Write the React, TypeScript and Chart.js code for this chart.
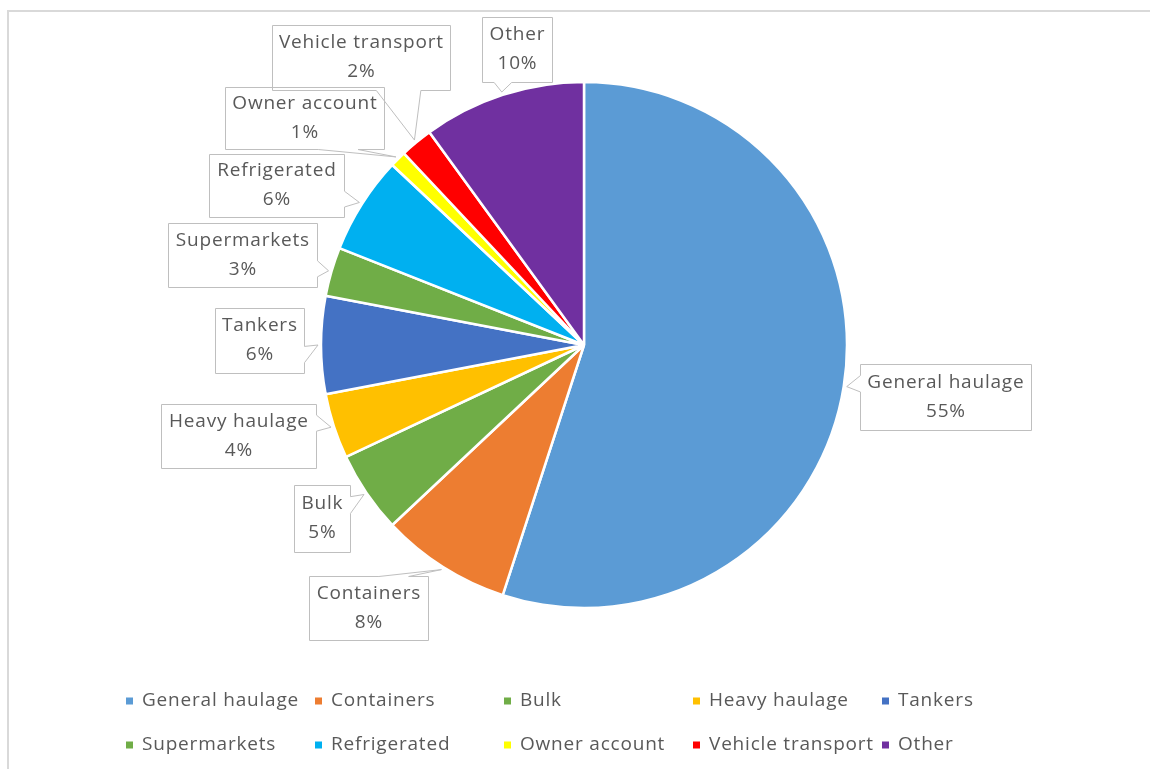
import React, { useEffect, useRef } from "react";
import { Chart, registerables } from "chart.js";

Chart.register(...registerables);

// ---- data ----
const categories = [
  "General haulage",
  "Containers",
  "Bulk",
  "Heavy haulage",
  "Tankers",
  "Supermarkets",
  "Refrigerated",
  "Owner account",
  "Vehicle transport",
  "Other",
];
const shares = [55, 8, 5, 4, 6, 3, 6, 1, 2, 10];
const sliceColors = [
  "#5B9BD5",
  "#ED7D31",
  "#70AD47",
  "#FFC000",
  "#4472C4",
  "#70AD47",
  "#00B0F0",
  "#FFFF00",
  "#FF0000",
  "#7030A0",
];

// ---- layout (callout boxes, in canvas px) ----
type Edge = "top" | "right" | "bottom" | "left";
const calloutBoxes: { x: number; y: number; w: number; h: number; edge: Edge }[] = [
  { x: 860, y: 364, w: 171, h: 66, edge: "left" },
  { x: 309, y: 576, w: 119, h: 64, edge: "top" },
  { x: 294, y: 485, w: 56, h: 67, edge: "right" },
  { x: 161, y: 404, w: 155, h: 64, edge: "right" },
  { x: 215, y: 308, w: 89, h: 65, edge: "right" },
  { x: 168, y: 223, w: 149, h: 64, edge: "right" },
  { x: 209, y: 154, w: 135, h: 63, edge: "right" },
  { x: 225, y: 87, w: 159, h: 62, edge: "bottom" },
  { x: 272, y: 25, w: 178, h: 65, edge: "bottom" },
  { x: 482, y: 17, w: 70, h: 65, edge: "bottom" },
];

const FONT = '"Open Sans", sans-serif';
const TEXT_COLOR = "#595959";
const FONT_SIZE = 19;
const LETTER_SPACING = 0.8;

function baseSpan(s: number, len: number, t: number): [number, number] {
  return t < s + len / 2
    ? [s + (len * 2) / 12, s + (len * 5) / 12]
    : [s + (len * 7) / 12, s + (len * 10) / 12];
}

function calloutPath(
  ctx: CanvasRenderingContext2D,
  x: number,
  y: number,
  w: number,
  h: number,
  edge: Edge,
  tx: number,
  ty: number
) {
  ctx.beginPath();
  ctx.moveTo(x, y);
  if (edge === "top") {
    const [a, b] = baseSpan(x, w, tx);
    ctx.lineTo(a, y);
    ctx.lineTo(tx, ty);
    ctx.lineTo(b, y);
  }
  ctx.lineTo(x + w, y);
  if (edge === "right") {
    const [a, b] = baseSpan(y, h, ty);
    ctx.lineTo(x + w, a);
    ctx.lineTo(tx, ty);
    ctx.lineTo(x + w, b);
  }
  ctx.lineTo(x + w, y + h);
  if (edge === "bottom") {
    const [a, b] = baseSpan(x, w, tx);
    ctx.lineTo(b, y + h);
    ctx.lineTo(tx, ty);
    ctx.lineTo(a, y + h);
  }
  ctx.lineTo(x, y + h);
  if (edge === "left") {
    const [a, b] = baseSpan(y, h, ty);
    ctx.lineTo(x, b);
    ctx.lineTo(tx, ty);
    ctx.lineTo(x, a);
  }
  ctx.closePath();
}

function setFont(ctx: CanvasRenderingContext2D) {
  ctx.font = `${FONT_SIZE}px ${FONT}`;
  (ctx as any).letterSpacing = `${LETTER_SPACING}px`;
}

const framePlugin = {
  id: "frame",
  beforeDraw(chart: any) {
    const ctx = chart.ctx as CanvasRenderingContext2D;
    ctx.save();
    ctx.fillStyle = "#ffffff";
    ctx.fillRect(0, 0, chart.width, chart.height);
    ctx.strokeStyle = "#D9D9D9";
    ctx.lineWidth = 2;
    ctx.strokeRect(8, 11, chart.width + 50, chart.height + 50);
    ctx.restore();
  },
};

const calloutPlugin = {
  id: "callouts",
  afterDatasetsDraw(chart: any) {
    const ctx = chart.ctx as CanvasRenderingContext2D;
    const meta = chart.getDatasetMeta(0);
    const values = chart.data.datasets[0].data as number[];
    const total = values.reduce((a, b) => a + b, 0);
    ctx.save();
    meta.data.forEach((arc: any, i: number) => {
      const box = calloutBoxes[i];
      if (!box) return;
      const p = arc.getProps(["x", "y", "startAngle", "endAngle", "outerRadius"], true);
      const mid = (p.startAngle + p.endAngle) / 2;
      const tx = p.x + Math.cos(mid) * (p.outerRadius + 3);
      const ty = p.y + Math.sin(mid) * (p.outerRadius + 3);
      ctx.strokeStyle = "#BFBFBF";
      ctx.lineWidth = 1;
      calloutPath(ctx, box.x + 0.5, box.y + 0.5, box.w, box.h, box.edge, tx, ty);
      ctx.stroke();
      ctx.fillStyle = TEXT_COLOR;
      setFont(ctx);
      ctx.textAlign = "center";
      ctx.textBaseline = "middle";
      const cx = box.x + box.w / 2 + LETTER_SPACING / 2;
      const cy = box.y + box.h / 2;
      ctx.fillText(String(chart.data.labels[i]), cx, cy - 14.5);
      ctx.fillText(`${Math.round((values[i] / total) * 100)}%`, cx, cy + 14.5);
    });
    ctx.restore();
  },
};

const legendPlugin = {
  id: "customLegend",
  afterDraw(chart: any) {
    const ctx = chart.ctx as CanvasRenderingContext2D;
    const labels = chart.data.labels as string[];
    const colors = chart.data.datasets[0].backgroundColor as string[];
    const perRow = 5;
    const startX = 126;
    const colW = 189;
    const rowY = [701, 745];
    ctx.save();
    setFont(ctx);
    ctx.textBaseline = "middle";
    ctx.textAlign = "left";
    labels.forEach((lab, i) => {
      const col = i % perRow;
      const row = Math.floor(i / perRow);
      const x = startX + col * colW;
      const y = rowY[row];
      ctx.fillStyle = colors[i];
      ctx.fillRect(x, y - 3.5, 7, 7);
      ctx.fillStyle = TEXT_COLOR;
      ctx.fillText(lab, x + 16, y);
    });
    ctx.restore();
  },
};

export default function App() {
  const canvasRef = useRef<HTMLCanvasElement | null>(null);

  useEffect(() => {
    if (!canvasRef.current) return;
    const chart = new Chart(canvasRef.current, {
      type: "pie",
      data: {
        labels: categories,
        datasets: [
          {
            data: shares,
            backgroundColor: sliceColors,
            borderColor: "#ffffff",
            borderWidth: 2.5,
            radius: 263,
          } as any,
        ],
      },
      options: {
        responsive: false,
        animation: false,
        layout: { padding: { left: 60, right: 42, top: 20, bottom: 99 } },
        plugins: {
          legend: { display: false },
          tooltip: { enabled: false },
        },
      },
      plugins: [framePlugin, calloutPlugin, legendPlugin],
    });
    return () => chart.destroy();
  }, []);

  return (
    <div style={{ position: "absolute", left: 0, top: 0, width: 1150, height: 769 }}>
      <canvas ref={canvasRef} width={1150} height={769} style={{ display: "block" }} />
    </div>
  );
}
